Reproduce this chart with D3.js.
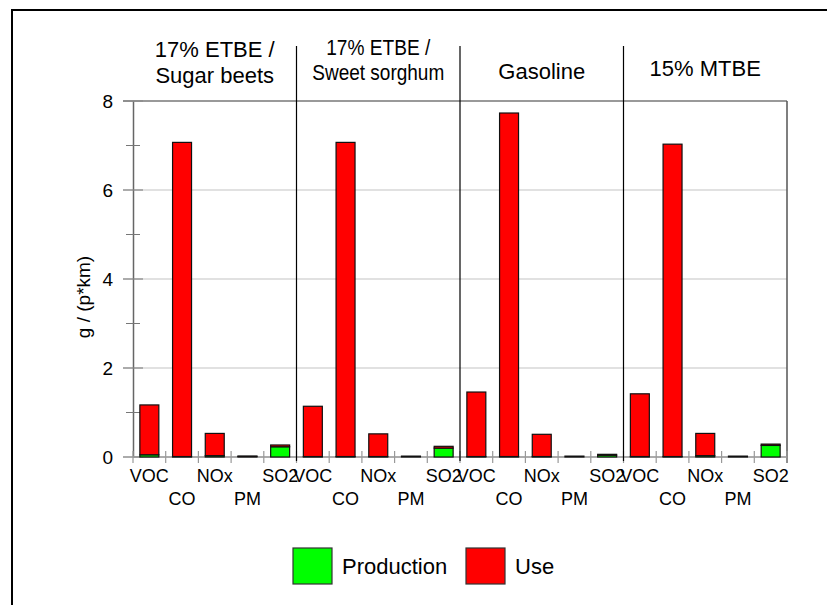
<!DOCTYPE html>
<html>
<head>
<meta charset="utf-8">
<script src="https://cdn.jsdelivr.net/npm/d3@7"></script>
<style>
  body { margin: 0; background: #fff; }
  svg { font-family: "Liberation Sans", Arial, sans-serif; }
</style>
</head>
<body>
<div id="chart"></div>
<script>
// emissions per fuel, g / (p*km)
const categories = ['VOC', 'CO', 'NOx', 'PM', 'SO2']
const fuels = ['ETBE_beets', 'ETBE_sorghum', 'Gasoline', 'MTBE']
const fuelTitles = [['17% ETBE /', 'Sugar beets'], ['17% ETBE /', 'Sweet sorghum'], ['Gasoline'], ['15% MTBE']]
const production = [
    [0.05, 0.01, 0.03, 0.015, 0.23],
    [0.01, 0.01, 0.01, 0.00, 0.20],
    [0.01, 0.01, 0.01, 0.00, 0.04],
    [0.01, 0.01, 0.03, 0.00, 0.26]
]
const use = [
    [1.12, 7.06, 0.50, 0.005, 0.04],
    [1.13, 7.06, 0.51, 0.02, 0.04],
    [1.45, 7.72, 0.50, 0.02, 0.02],
    [1.41, 7.02, 0.50, 0.02, 0.03]
]
const yTicks = [0, 2, 4, 6, 8]
const yMinor = [1, 3, 5, 7]
const seriesNames = ['Production', 'Use']
const colors = { Production: '#00ff00', Use: '#ff0000' }

const width = 827, height = 605
const plotLeft = 133, plotRight = 787, plotTop = 101, plotBottom = 457

const svg = d3.select('#chart').append('svg')
    .attr('width', width)
    .attr('height', height)

// outer frame
svg.append('rect')
    .attr('x', 12).attr('y', 10)
    .attr('width', 840).attr('height', 620)
    .attr('fill', 'none')
    .attr('stroke', '#000')
    .attr('stroke-width', 2)

const rows = []
fuels.forEach((f, i) => {
    categories.forEach((c, j) => {
        rows.push({ key: f + '|' + c, fuel: i, cat: j, Production: production[i][j], Use: use[i][j] })
    })
})

const slot = d3.scaleBand()
    .domain(rows.map(d => d.key))
    .range([plotLeft, plotRight])
const xScale = d3.scaleBand()
    .domain(rows.map(d => d.key))
    .range([plotLeft, plotRight])
    .paddingInner(0.42)
    .paddingOuter(0.21)
const yScale = d3.scaleLinear()
    .domain([0, 8])
    .range([plotBottom, plotTop])

// grid
svg.append('g')
    .selectAll('line')
    .data(yTicks)
    .join('line')
    .attr('x1', 123).attr('x2', plotRight)
    .attr('y1', d => yScale(d)).attr('y2', d => yScale(d))
    .attr('stroke', d => d === 8 ? '#777' : '#c4c4c4')
    .attr('stroke-width', d => d === 8 ? 1.5 : 1.2)

// y axis
const yAxis = svg.append('g')
    .attr('transform', `translate(${plotLeft},0)`)
    .call(d3.axisLeft(yScale).tickValues(yTicks).tickSize(0).tickPadding(20))
yAxis.select('.domain').attr('stroke', '#666').attr('stroke-width', 1.5)
yAxis.selectAll('text').attr('font-size', 19).attr('fill', '#000')
    .attr('font-family', '"Liberation Sans", Arial, sans-serif')

svg.append('g')
    .selectAll('line')
    .data(yTicks)
    .join('line')
    .attr('x1', 123).attr('x2', 143)
    .attr('y1', d => yScale(d)).attr('y2', d => yScale(d))
    .attr('stroke', '#888').attr('stroke-width', 1.2)
svg.append('g')
    .selectAll('line')
    .data(yMinor)
    .join('line')
    .attr('x1', 126).attr('x2', 140)
    .attr('y1', d => yScale(d)).attr('y2', d => yScale(d))
    .attr('stroke', '#777').attr('stroke-width', 1)

// right edge
svg.append('line')
    .attr('x1', plotRight).attr('x2', plotRight)
    .attr('y1', plotTop).attr('y2', plotBottom + 6)
    .attr('stroke', '#555').attr('stroke-width', 1.5)

// bottom axis with slot boundary ticks
svg.append('line')
    .attr('x1', plotLeft).attr('x2', plotRight)
    .attr('y1', plotBottom).attr('y2', plotBottom)
    .attr('stroke', '#999').attr('stroke-width', 1.5)
svg.append('g')
    .selectAll('line')
    .data(rows.map(d => slot(d.key)).concat([plotRight]))
    .join('line')
    .attr('x1', d => d).attr('x2', d => d)
    .attr('y1', plotBottom - 6).attr('y2', plotBottom + 6)
    .attr('stroke', '#999').attr('stroke-width', 1.2)

// group separators
svg.append('g')
    .selectAll('line')
    .data(fuels.slice(1))
    .join('line')
    .attr('x1', d => slot(d + '|VOC')).attr('x2', d => slot(d + '|VOC'))
    .attr('y1', 46).attr('y2', plotBottom + 4)
    .attr('stroke', '#000').attr('stroke-width', 1.2)

// bars
const stacked = d3.stack().keys(seriesNames)(rows)
svg.append('g')
    .selectAll('g')
    .data(stacked)
    .join('g')
    .attr('fill', d => colors[d.key])
    .selectAll('rect')
    .data(d => d)
    .join('rect')
    .attr('x', d => xScale(d.data.key))
    .attr('width', xScale.bandwidth())
    .attr('y', d => yScale(d[1]))
    .attr('height', d => Math.max(0, yScale(d[0]) - yScale(d[1])))
    .attr('stroke', '#111')
    .attr('stroke-width', 1.2)

// category labels, alternating rows
svg.append('g')
    .selectAll('text')
    .data(rows)
    .join('text')
    .attr('x', d => slot(d.key) + slot.bandwidth() / 2)
    .attr('y', d => d.cat % 2 === 0 ? 482 : 505)
    .attr('text-anchor', 'middle')
    .attr('font-size', 18)
    .text(d => categories[d.cat])

// group titles
const titleY = [[57, 83], [55, 80], [79], [76]]
const titleLen = [[null, null], [104, 132], [null], [null]]
fuelTitles.forEach((lines, i) => {
    const cx = (slot(fuels[i] + '|VOC') + slot(fuels[i] + '|SO2') + slot.bandwidth()) / 2
    lines.forEach((t, k) => {
        const txt = svg.append('text')
            .attr('x', cx)
            .attr('y', titleY[i][k])
            .attr('text-anchor', 'middle')
            .attr('font-size', 22)
            .text(t)
        if (titleLen[i][k]) {
            txt.attr('textLength', titleLen[i][k]).attr('lengthAdjust', 'spacingAndGlyphs')
        }
    })
})

// y title
svg.append('text')
    .attr('transform', `translate(90, ${(plotTop + plotBottom) / 2 + 18}) rotate(-90)`)
    .attr('text-anchor', 'middle')
    .attr('font-size', 19)
    .text('g / (p*km)')

// legend
const legend = svg.append('g')
const legendX = [293, 466]
seriesNames.forEach((s, i) => {
    legend.append('rect')
        .attr('x', legendX[i]).attr('y', 548)
        .attr('width', 39).attr('height', 36)
        .attr('fill', colors[s])
        .attr('stroke', '#333').attr('stroke-width', 1.2)
    legend.append('text')
        .attr('x', legendX[i] + 49).attr('y', 574)
        .attr('font-size', 22)
        .text(s)
})
</script>
</body>
</html>
